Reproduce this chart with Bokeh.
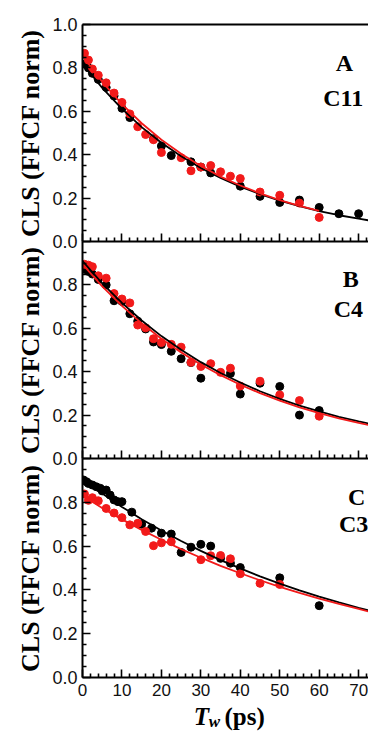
from bokeh.plotting import figure
from bokeh.models import LinearAxis, FixedTicker, PrintfTickFormatter, Range1d, Label
from bokeh.layouts import column
from bokeh.embed import file_html
from bokeh.resources import INLINE

# ---------------- data ----------------
# Panel A (C11)
a_red_x = [0.5, 1.5, 2.5, 4, 6, 8, 10, 12, 14, 16, 18, 20, 25, 27.5, 30, 32.5, 35, 37.5, 40, 45, 50, 55, 60]
a_red_y = [0.867, 0.836, 0.795, 0.766, 0.731, 0.684, 0.641, 0.588, 0.529, 0.493, 0.469, 0.41, 0.386, 0.326, 0.343, 0.35, 0.321, 0.301, 0.29, 0.228, 0.213, 0.177, 0.111]
a_blk_x = [0.5, 1.5, 2.5, 4, 6, 8, 10, 12, 18, 20, 22.5, 27.5, 30, 32.5, 40, 45, 50, 55, 60, 65, 70]
a_blk_y = [0.818, 0.80, 0.775, 0.747, 0.71, 0.671, 0.614, 0.571, 0.473, 0.44, 0.396, 0.367, 0.343, 0.316, 0.255, 0.208, 0.18, 0.191, 0.157, 0.128, 0.128]
# Panel B (C4)
b_red_x = [0.5, 1.5, 2.5, 4, 6, 8, 10, 12, 14, 16, 18, 20, 22.5, 25, 27.5, 30, 32.5, 35, 37.5, 40, 45, 50, 55, 60]
b_red_y = [0.895, 0.891, 0.884, 0.842, 0.831, 0.76, 0.735, 0.717, 0.615, 0.602, 0.552, 0.534, 0.526, 0.513, 0.443, 0.424, 0.437, 0.397, 0.416, 0.334, 0.356, 0.293, 0.267, 0.195]
b_blk_x = [0.5, 1.5, 2.5, 4, 6, 8, 10, 12, 14, 16, 18, 20, 22.5, 25, 27.5, 30, 37.5, 40, 45, 50, 55, 60]
b_blk_y = [0.872, 0.862, 0.85, 0.825, 0.80, 0.727, 0.724, 0.667, 0.633, 0.597, 0.537, 0.525, 0.494, 0.46, 0.442, 0.37, 0.392, 0.297, 0.347, 0.332, 0.2, 0.221]
# Panel C (C3)
c_red_x = [0.5, 1.5, 2.5, 4, 6, 8, 10, 12, 14, 16, 18, 20, 22.5, 30, 32.5, 35, 37.5, 40, 45, 50]
c_red_y = [0.838, 0.809, 0.821, 0.807, 0.772, 0.751, 0.73, 0.697, 0.704, 0.667, 0.602, 0.615, 0.62, 0.538, 0.556, 0.557, 0.542, 0.474, 0.43, 0.425]
c_blk_x = [0.25, 1, 1.5, 2.5, 3.5, 4.5, 5, 6, 7, 8, 9, 10, 12.5, 15, 17.5, 20, 22.5, 25, 27.5, 30, 32.5, 35, 37.5, 40, 50, 60]
c_blk_y = [0.902, 0.894, 0.886, 0.879, 0.871, 0.864, 0.852, 0.856, 0.833, 0.811, 0.803, 0.803, 0.755, 0.70, 0.682, 0.659, 0.655, 0.571, 0.595, 0.608, 0.6, 0.544, 0.522, 0.502, 0.455, 0.328]

# fit curves every 5 ps
fit_x = [0, 5, 10, 15, 20, 25, 30, 35, 40, 45, 50, 55, 60, 65, 70, 75]
a_fit_blk = [0.82, 0.708, 0.611, 0.527, 0.455, 0.393, 0.339, 0.293, 0.253, 0.218, 0.188, 0.163, 0.140, 0.121, 0.105, 0.090]
a_fit_red = [0.855, 0.736, 0.633, 0.545, 0.469, 0.404, 0.348, 0.299, 0.258, 0.222, 0.191, 0.164, 0.141]
b_fit_blk = [0.91, 0.807, 0.717, 0.636, 0.564, 0.501, 0.444, 0.394, 0.350, 0.310, 0.275, 0.244, 0.217, 0.192, 0.171, 0.151]
b_fit_red = [0.895, 0.793, 0.703, 0.623, 0.552, 0.489, 0.433, 0.384, 0.340, 0.301, 0.267, 0.236, 0.209, 0.185, 0.164, 0.145]
c_fit_blk = [0.905, 0.840, 0.779, 0.723, 0.671, 0.623, 0.578, 0.536, 0.498, 0.462, 0.429, 0.398, 0.369, 0.343, 0.318, 0.295]
c_fit_red = [0.83, 0.774, 0.722, 0.674, 0.629, 0.586, 0.547, 0.510, 0.476, 0.444, 0.414, 0.386, 0.360, 0.336, 0.313, 0.290]

x_ticks = [0, 10, 20, 30, 40, 50, 60, 70]
panel_letters = ["A", "B", "C"]
panel_names = ["C11", "C4", "C3"]
y_label = "CLS (FFCF norm)"

# ---------------- style ----------------
RED = "#f21a1a"
BLK = "#000000"
SERIF = "Liberation Serif"
SANS = "Liberation Sans"
X_END = 72.5
x_minor = [v for v in range(0, 74, 2) if v % 10 != 0]
y_minor = [round(i * 0.05, 2) for i in range(21) if i % 4 != 0]


def style_axis(ax):
    ax.axis_line_width = 2
    ax.axis_line_color = "black"
    ax.major_tick_in = 8
    ax.major_tick_out = 0
    ax.minor_tick_in = 4
    ax.minor_tick_out = 0
    ax.major_tick_line_width = 1.6
    ax.minor_tick_line_width = 1.6
    ax.major_label_text_font = SANS
    ax.major_label_text_color = "#111111"


def make_panel(idx, fh, top, bottom, margin_top, rx, ry, kx, ky, fb, fr, fr_len,
               show_x, show_one, letter_pos, name_pos):
    p = figure(frame_width=286, frame_height=fh, x_range=Range1d(0, X_END), y_range=Range1d(0, 1),
               output_backend="svg", toolbar_location=None,
               min_border_left=82, min_border_right=0, min_border_top=top, min_border_bottom=bottom,
               margin=(margin_top, 0, 0, 0))
    p.outline_line_color = None
    p.xgrid.visible = False
    p.ygrid.visible = False
    p.background_fill_alpha = 0
    p.border_fill_alpha = 0

    xa = p.xaxis[0]
    style_axis(xa)
    xa.ticker = FixedTicker(ticks=x_ticks, minor_ticks=x_minor)
    if show_x:
        xa.major_label_text_font_size = "17px"
        xa.major_label_standoff = 6
    else:
        xa.major_label_text_font_size = "1px"
        xa.major_label_text_color = None
        xa.major_label_standoff = 0

    ya = p.yaxis[0]
    style_axis(ya)
    ya.major_label_text_font_size = "18px"
    yt = [0, 0.2, 0.4, 0.6, 0.8, 1.0] if show_one else [0, 0.2, 0.4, 0.6, 0.8]
    ya.ticker = FixedTicker(ticks=yt, minor_ticks=y_minor)
    ya.formatter = PrintfTickFormatter(format="%.1f")
    ya.major_label_standoff = 5
    ya.axis_label = y_label
    ya.axis_label_text_font = SERIF
    ya.axis_label_text_font_style = "bold"
    ya.axis_label_text_font_size = "26px"
    ya.axis_label_standoff = 4
    ya.axis_label_text_color = "black"

    if top > 0:
        topax = LinearAxis(ticker=FixedTicker(ticks=[]), major_label_text_font_size="1px",
                           major_label_text_color=None,
                           major_tick_in=0, major_tick_out=0, minor_tick_in=0, minor_tick_out=0,
                           axis_line_width=2, major_label_standoff=0)
        p.add_layout(topax, "above")

    p.scatter(kx, ky, size=8, color=BLK, marker="circle")
    p.scatter(rx, ry, size=8, color=RED, marker="circle")
    p.line(fit_x, fb, line_color=BLK, line_width=1.8)
    p.line(fit_x[:fr_len], fr, line_color=RED, line_width=1.8)

    p.add_layout(Label(x=letter_pos[0], y=letter_pos[1], text=panel_letters[idx], text_font=SERIF,
                       text_font_style="bold", text_font_size="24px", text_baseline="alphabetic",
                       text_align="left", text_color="black"))
    p.add_layout(Label(x=name_pos[0], y=name_pos[1], text=panel_names[idx], text_font=SERIF,
                       text_font_style="bold", text_font_size="24px", text_baseline="alphabetic",
                       text_align="left", text_color="black"))
    return p


pa = make_panel(0, 217, 24, 12, 0, a_red_x, a_red_y, a_blk_x, a_blk_y, a_fit_blk, a_fit_red, len(a_fit_red),
                False, True, (64.2, 0.824), (61.0, 0.662))
pb = make_panel(1, 217, 0, 12, -12, b_red_x, b_red_y, b_blk_x, b_blk_y, b_fit_blk, b_fit_red, len(b_fit_red),
                False, False, (66.0, 0.829), (63.7, 0.687))
pc = make_panel(2, 219, 0, 24, -12, c_red_x, c_red_y, c_blk_x, c_blk_y, c_fit_blk, c_fit_red, len(c_fit_red),
                True, False, (67.3, 0.826), (65.0, 0.699))

# x-axis title strip: T_w (ps)  (overlaps the tick-label band of panel C, transparent)
pt = figure(frame_width=286, frame_height=46, x_range=Range1d(0, X_END), y_range=Range1d(0, 1),
            output_backend="svg", toolbar_location=None, x_axis_location=None, y_axis_location=None,
            min_border_left=82, min_border_right=0, min_border_top=0, min_border_bottom=0,
            margin=(-14, 0, 0, 0))
pt.outline_line_color = None
pt.grid.visible = False
pt.background_fill_alpha = 0
pt.border_fill_alpha = 0
pt.add_layout(Label(x=28.2, y=0.36, text="T", text_font=SERIF, text_font_style="bold italic",
                    text_font_size="25px", text_baseline="alphabetic", text_align="left", text_color="black"))
pt.add_layout(Label(x=32.0, y=0.27, text="w", text_font=SERIF, text_font_style="bold italic",
                    text_font_size="17px", text_baseline="alphabetic", text_align="left", text_color="black"))
pt.add_layout(Label(x=36.0, y=0.36, text="(ps)", text_font=SERIF, text_font_style="bold",
                    text_font_size="25px", text_baseline="alphabetic", text_align="left", text_color="black"))

layout = column(pa, pb, pc, pt, spacing=0)
open("out.html", "w").write(file_html(layout, INLINE))
